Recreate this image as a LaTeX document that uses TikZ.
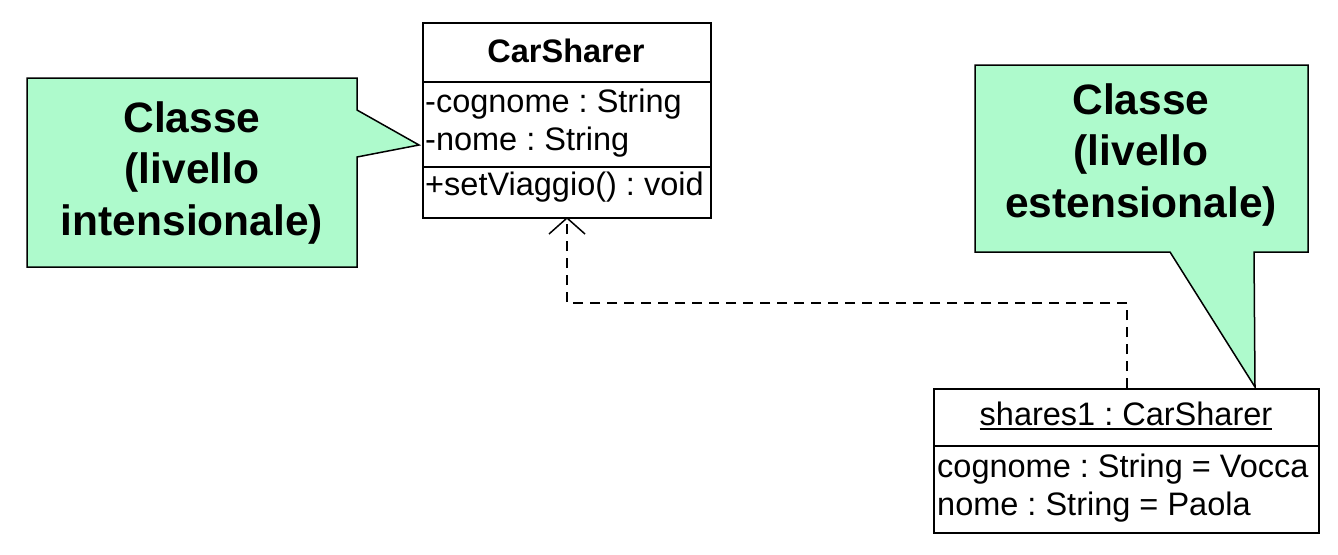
\documentclass[tikz,border=0pt]{standalone}
\usepackage{fontspec}
\setmainfont{Liberation Sans}
\usetikzlibrary{arrows.meta}
\definecolor{notegreen}{RGB}{174,250,204}
\newcommand\myul[1]{\setbox0\hbox{#1}\rlap{\rule[-4.5pt]{\wd0}{1.8pt}}\box0}
\frenchspacing
\begin{document}
\begin{tikzpicture}[x=1pt,y=-1pt,
  box/.style={draw=black,line width=2pt,fill=white,rectangle,inner sep=0pt,anchor=north west},
  txt/.style={inner sep=0pt,font=\fontsize{32.5}{38}\selectfont},
  notetxt/.style={inner sep=0pt,align=center,font=\fontsize{42.5}{51.5}\selectfont\bfseries},
  note/.style={draw=black,line width=1.5pt,fill=notegreen,line join=miter},
  dep/.style={draw=black,line width=1.5pt,dash pattern=on 10pt off 7pt,-{Straight Barb[length=16pt,width=36pt,line width=1.5pt]}}]
\useasboundingbox (0,0) rectangle (1338,554);
% class box
\node[box,minimum width=288pt,minimum height=59pt] (clshead) at (422,22) {};
\node[box,minimum width=288pt,minimum height=85pt] (clsattr) at (422,81) {};
\node[box,minimum width=288pt,minimum height=51pt] (clsops) at (422,166) {};
\node[txt,anchor=base] (tclsname) at (566,62) {\bfseries CarSharer};
\node[txt,anchor=base west] (tcog) at (425,112) {-cognome : String};
\node[txt,anchor=base west] (tnome) at (425,150) {-nome : String};
\node[txt,anchor=base west] (tset) at (425,195) {+setViaggio() : void};
% object box
\node[box,minimum width=385pt,minimum height=57pt] (objhead) at (933,388) {};
\node[box,minimum width=385pt,minimum height=87pt] (objattr) at (933,445) {};
\node[txt,anchor=base] (tobj) at (1126,425) {\myul{shares1 : CarSharer}};
\node[txt,anchor=base west] (tocog) at (937,477) {cognome : String = Vocca};
\node[txt,anchor=base west] (tonome) at (937,515) {nome : String = Paola};
% left note
\coordinate (ltip) at (419,145);
\path[note] (27,78) -- (357,78) -- (357,110) -- (ltip) -- (357,157) -- (357,267) -- (27,267) -- cycle;
\node[notetxt] (lnote) at (192,173) {Classe\\(livello\\intensionale)};
% right note
\coordinate (rtip) at (1255,387);
\path[note] (975,65) -- (1308,65) -- (1308,252) -- (1254,252) -- (rtip) -- (1170,252) -- (975,252) -- cycle;
\node[notetxt] (rnote) at (1141,155) {Classe\\(livello\\estensionale)};
% dependency
\coordinate (dsrc) at (1127,388);
\coordinate (dbend) at (567,303);
\coordinate (dtgt) at (567,217);
\draw[dep] (dsrc) |- (dbend) -- (dtgt);
\end{tikzpicture}
\end{document}
